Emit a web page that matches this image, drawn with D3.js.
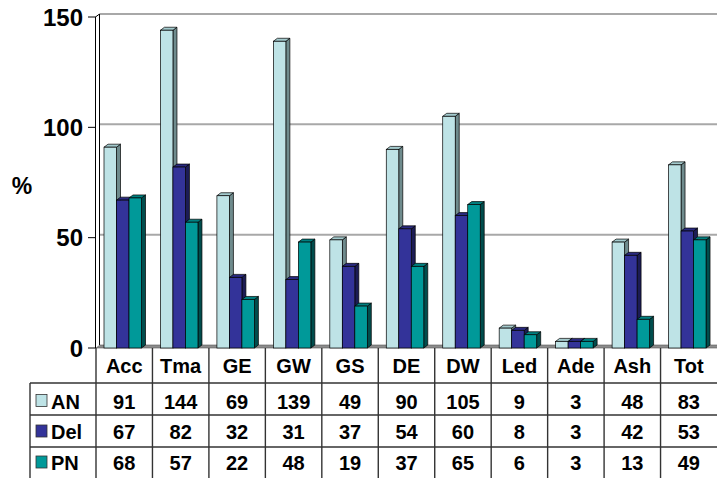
<!DOCTYPE html>
<html>
<head>
<meta charset="utf-8">
<script src="https://cdn.jsdelivr.net/npm/d3@7"></script>
<style>
  html, body { margin: 0; padding: 0; background: #fff; }
  svg { display: block; font-family: "Liberation Sans", Arial, sans-serif; }
</style>
</head>
<body>
<svg id="chart" width="717" height="478"></svg>
<script>
// Categories along the x axis
const categories = ["Acc", "Tma", "GE", "GW", "GS", "DE", "DW", "Led", "Ade", "Ash", "Tot"];
// Series names
const seriesNames = ["AN", "Del", "PN"];
// Values per series (%)
const anValues  = [91, 144, 69, 139, 49, 90, 105, 9, 3, 48, 83];
const delValues = [67, 82, 32, 31, 37, 54, 60, 8, 3, 42, 53];
const pnValues  = [68, 57, 22, 48, 19, 37, 65, 6, 3, 13, 49];
// Y axis ticks
const yTicks = [0, 50, 100, 150];

const seriesValues = [anValues, delValues, pnValues];
const colors = {
  AN:  { front: "#BEE3E6", top: "#A3CACD", side: "#6F8B8D" },
  Del: { front: "#333399", top: "#2A2A80", side: "#1C1C55" },
  PN:  { front: "#009999", top: "#008080", side: "#004D4D" }
};

const svg = d3.select("#chart");
const W = 717, H = 478;
const left = 96, right = 717, yZero = 348, yTop = 17;
const dx = 4, dy = -3; // 3D depth offset

const x = d3.scaleBand().domain(categories).range([left, right]).padding(0);
const xs = d3.scaleBand().domain(seriesNames).range([8, 45.5]).padding(0);
const y = d3.scaleLinear().domain([0, 150]).range([yZero, yTop]);

// Back wall gridlines
svg.append("g").selectAll("line").data(yTicks.filter(t => t > 0)).join("line")
  .attr("x1", left + dx).attr("x2", right)
  .attr("y1", d => y(d) + dy).attr("y2", d => y(d) + dy)
  .attr("stroke", "#a8a8a8").attr("stroke-width", 2);

// Side wall (edge-on) lines
svg.append("line").attr("x1", left - 0.5).attr("x2", left - 0.5)
  .attr("y1", y(150)).attr("y2", yZero).attr("stroke", "#000").attr("stroke-width", 1);
svg.append("line").attr("x1", left + dx - 0.5).attr("x2", left + dx - 0.5)
  .attr("y1", y(150) + dy).attr("y2", yZero + dy).attr("stroke", "#000").attr("stroke-width", 1);
svg.append("line").attr("x1", left - 0.5).attr("x2", left + dx - 0.5)
  .attr("y1", y(150)).attr("y2", y(150) + dy).attr("stroke", "#000").attr("stroke-width", 1);

// Y axis ticks and labels
const yAxis = svg.append("g");
yAxis.selectAll("line").data(yTicks).join("line")
  .attr("x1", 88).attr("x2", left)
  .attr("y1", d => y(d)).attr("y2", d => y(d))
  .attr("stroke", "#000").attr("stroke-width", 1);
yAxis.selectAll("text").data(yTicks).join("text")
  .attr("x", 83).attr("y", d => y(d) + 8.5)
  .attr("text-anchor", "end")
  .attr("font-size", 24).attr("font-weight", "bold")
  .text(d => d);

svg.append("text").attr("x", 22).attr("y", 194)
  .attr("text-anchor", "middle").attr("font-size", 23).attr("font-weight", "bold")
  .text("%");

// Floor
svg.append("path")
  .attr("d", `M${left},${yZero} L${right},${yZero} L${right + dx},${yZero + dy} L${left + dx},${yZero + dy} Z`)
  .attr("fill", "#8c8c8c").attr("stroke", "#555").attr("stroke-width", 0.6);

// Bars (front, top, side faces)
const bars = [];
categories.forEach((c, i) => {
  seriesNames.forEach((s, j) => bars.push({ cat: c, series: s, value: seriesValues[j][i] }));
});
const barG = svg.append("g");
bars.forEach(b => {
  const x0 = x(b.cat) + xs(b.series);
  const w = xs.bandwidth();
  const yt = y(b.value);
  const col = colors[b.series];
  const g = barG.append("g");
  g.append("path")
    .attr("d", `M${x0 + w},${yZero} L${x0 + w + dx},${yZero + dy} L${x0 + w + dx},${yt + dy} L${x0 + w},${yt} Z`)
    .attr("fill", col.side).attr("stroke", "#000").attr("stroke-width", 0.7);
  g.append("path")
    .attr("d", `M${x0},${yt} L${x0 + dx},${yt + dy} L${x0 + w + dx},${yt + dy} L${x0 + w},${yt} Z`)
    .attr("fill", col.top).attr("stroke", "#000").attr("stroke-width", 0.7);
  g.append("rect")
    .attr("x", x0).attr("y", yt).attr("width", w).attr("height", yZero - yt)
    .attr("fill", col.front).attr("stroke", "#000").attr("stroke-width", 0.7);
});

// Data table
const rowTops = [383, 415, 447, 478];
const tableLeft = 30;
const table = svg.append("g").attr("stroke", "#333").attr("stroke-width", 1.4);
// horizontal row lines
rowTops.slice(0, 3).forEach(ry => {
  table.append("line").attr("x1", tableLeft).attr("x2", right).attr("y1", ry).attr("y2", ry);
});
// vertical lines between categories
categories.forEach(c => {
  table.append("line").attr("x1", x(c)).attr("x2", x(c)).attr("y1", yZero).attr("y2", H);
});
table.append("line").attr("x1", tableLeft).attr("x2", tableLeft).attr("y1", rowTops[0]).attr("y2", H);

// header labels
svg.append("g").selectAll("text").data(categories).join("text")
  .attr("x", c => x(c) + x.bandwidth() / 2).attr("y", 373)
  .attr("text-anchor", "middle").attr("font-size", 20).attr("font-weight", "bold")
  .text(c => c);

const rowBaselines = [408.5, 439, 470];
seriesNames.forEach((s, j) => {
  const rg = svg.append("g");
  rg.append("rect").attr("x", 36).attr("y", rowBaselines[j] - 14).attr("width", 11).attr("height", 12)
    .attr("fill", colors[s].front).attr("stroke", "#333").attr("stroke-width", 0.8);
  rg.append("text").attr("x", 51).attr("y", rowBaselines[j])
    .attr("font-size", 20).attr("font-weight", "bold").text(s);
  rg.selectAll("text.v").data(seriesValues[j]).join("text").attr("class", "v")
    .attr("x", (v, i) => x(categories[i]) + x.bandwidth() / 2).attr("y", rowBaselines[j])
    .attr("text-anchor", "middle").attr("font-size", 20).attr("font-weight", "bold")
    .text(v => v);
});
</script>
</body>
</html>
